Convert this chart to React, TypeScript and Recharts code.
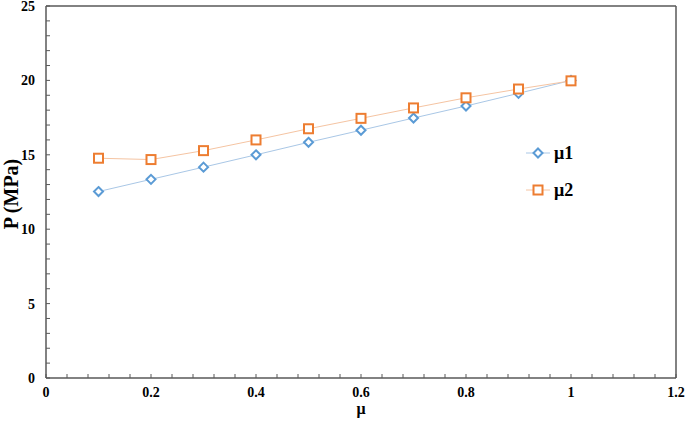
import React from "react";
import { LineChart, Line, XAxis, YAxis, ReferenceLine } from "recharts";

// values
const muValues = [0.1, 0.2, 0.3, 0.4, 0.5, 0.6, 0.7, 0.8, 0.9, 1.0];
const mu1Values = [12.53, 13.35, 14.17, 15.0, 15.84, 16.65, 17.47, 18.28, 19.13, 20.0];
const mu2Values = [14.77, 14.68, 15.28, 16.0, 16.75, 17.45, 18.15, 18.83, 19.42, 19.97];

const xTicks = [
  0, 0.04, 0.08, 0.12, 0.16, 0.2, 0.24, 0.28, 0.32, 0.36, 0.4, 0.44, 0.48, 0.52,
  0.56, 0.6, 0.64, 0.68, 0.72, 0.76, 0.8, 0.84, 0.88, 0.92, 0.96, 1.0, 1.04,
  1.08, 1.12, 1.16, 1.2,
];
const yTicks = [
  0, 1, 2, 3, 4, 5, 6, 7, 8, 9, 10, 11, 12, 13, 14, 15, 16, 17, 18, 19, 20, 21,
  22, 23, 24, 25,
];
const seriesNames = ["μ1", "μ2"];

const data = muValues.map((m, i) => ({ mu: m, mu1: mu1Values[i], mu2: mu2Values[i] }));

const FONT = "'Liberation Serif', 'Times New Roman', serif";
const AXIS = "#595959";
const BLUE = "#5B9BD5";
const BLUE_LINE = "#A9C7E6";
const ORANGE = "#ED7D31";
const ORANGE_LINE = "#F5C4A2";

const isMajorX = (v: number) => Math.abs(v * 5 - Math.round(v * 5)) < 1e-6;

const XTick = (props: any) => {
  const { x, y, payload } = props;
  const v = payload.value;
  return (
    <g>
      <line x1={x} x2={x} y1={y} y2={y - 4} stroke={AXIS} strokeWidth={1} />
      {isMajorX(v) && (
        <text
          x={x}
          y={y + 19}
          textAnchor="middle"
          fontFamily={FONT}
          fontWeight="bold"
          fontSize={14}
          fill="#000"
        >
          {String(Math.round(v * 10) / 10)}
        </text>
      )}
    </g>
  );
};

const YTick = (props: any) => {
  const { x, y, payload } = props;
  const v = payload.value;
  return (
    <g>
      <line x1={x} x2={x + 4} y1={y} y2={y} stroke={AXIS} strokeWidth={1} />
      {v % 5 === 0 && (
        <text
          x={x - 11}
          y={y + 5}
          textAnchor="end"
          fontFamily={FONT}
          fontWeight="bold"
          fontSize={14}
          fill="#000"
        >
          {v}
        </text>
      )}
    </g>
  );
};

const Diamond = (props: any) => {
  const { cx, cy, key } = props;
  if (cx == null || cy == null) return null;
  const r = 4.5;
  return (
    <path
      key={key}
      d={`M${cx},${cy - r}L${cx + r},${cy}L${cx},${cy + r}L${cx - r},${cy}Z`}
      fill="#fff"
      stroke={BLUE}
      strokeWidth={2}
    />
  );
};

const Square = (props: any) => {
  const { cx, cy, key } = props;
  if (cx == null || cy == null) return null;
  const h = 4.5;
  return (
    <rect
      key={key}
      x={cx - h}
      y={cy - h}
      width={h * 2}
      height={h * 2}
      fill="#fff"
      stroke={ORANGE}
      strokeWidth={2}
    />
  );
};

const YLabel = () => (
  <text
    x={18}
    y={194}
    transform="rotate(-90 18 194)"
    textAnchor="middle"
    fontFamily={FONT}
    fontWeight="bold"
    fontSize={20}
    fill="#000"
  >
    P (MPa)
  </text>
);

const XLabel = () => (
  <text
    x={361}
    y={414}
    textAnchor="middle"
    fontFamily={FONT}
    fontWeight="bold"
    fontSize={16}
    fill="#000"
  >
    μ
  </text>
);

function LegendBox() {
  return (
    <svg
      width={90}
      height={70}
      style={{ position: "absolute", left: 524, top: 143 }}
    >
      <line x1={2} x2={26} y1={10} y2={10} stroke={BLUE_LINE} strokeWidth={1} />
      <Diamond cx={14} cy={10} />
      <text x={30} y={16} fontFamily={FONT} fontWeight="bold" fontSize={18} fill="#000">
        {seriesNames[0]}
      </text>
      <line x1={2} x2={26} y1={47} y2={47} stroke={ORANGE_LINE} strokeWidth={1} />
      <Square cx={14} cy={47} />
      <text x={30} y={53} fontFamily={FONT} fontWeight="bold" fontSize={18} fill="#000">
        {seriesNames[1]}
      </text>
    </svg>
  );
}

export default function App() {
  return (
    <div
      style={{
        position: "absolute",
        left: 0,
        top: 0,
        width: 685,
        height: 421,
        background: "#fff",
      }}
    >
      <LineChart
        width={685}
        height={421}
        data={data}
        margin={{ top: 6, right: 9, left: 0, bottom: 0 }}
      >
        <XAxis
          dataKey="mu"
          type="number"
          domain={[0, 1.2]}
          ticks={xTicks}
          interval={0}
          height={43}
          tickSize={0}
          tickMargin={0}
          tickLine={false}
          axisLine={{ stroke: AXIS, strokeWidth: 1.5 }}
          tick={<XTick />}
          label={{ content: <XLabel /> }}
        />
        <YAxis
          type="number"
          domain={[0, 25]}
          ticks={yTicks}
          interval={0}
          width={46}
          tickSize={0}
          tickMargin={0}
          tickLine={false}
          axisLine={{ stroke: AXIS, strokeWidth: 1.5 }}
          tick={<YTick />}
          label={{ content: <YLabel /> }}
        />
        <ReferenceLine y={25} stroke={AXIS} strokeWidth={1.5} />
        <ReferenceLine x={1.2} stroke={AXIS} strokeWidth={1.5} />
        <Line
          dataKey="mu1"
          name={seriesNames[0]}
          stroke={BLUE_LINE}
          strokeWidth={1}
          dot={Diamond}
          activeDot={false}
          isAnimationActive={false}
        />
        <Line
          dataKey="mu2"
          name={seriesNames[1]}
          stroke={ORANGE_LINE}
          strokeWidth={1}
          dot={Square}
          activeDot={false}
          isAnimationActive={false}
        />
      </LineChart>
      <LegendBox />
    </div>
  );
}
